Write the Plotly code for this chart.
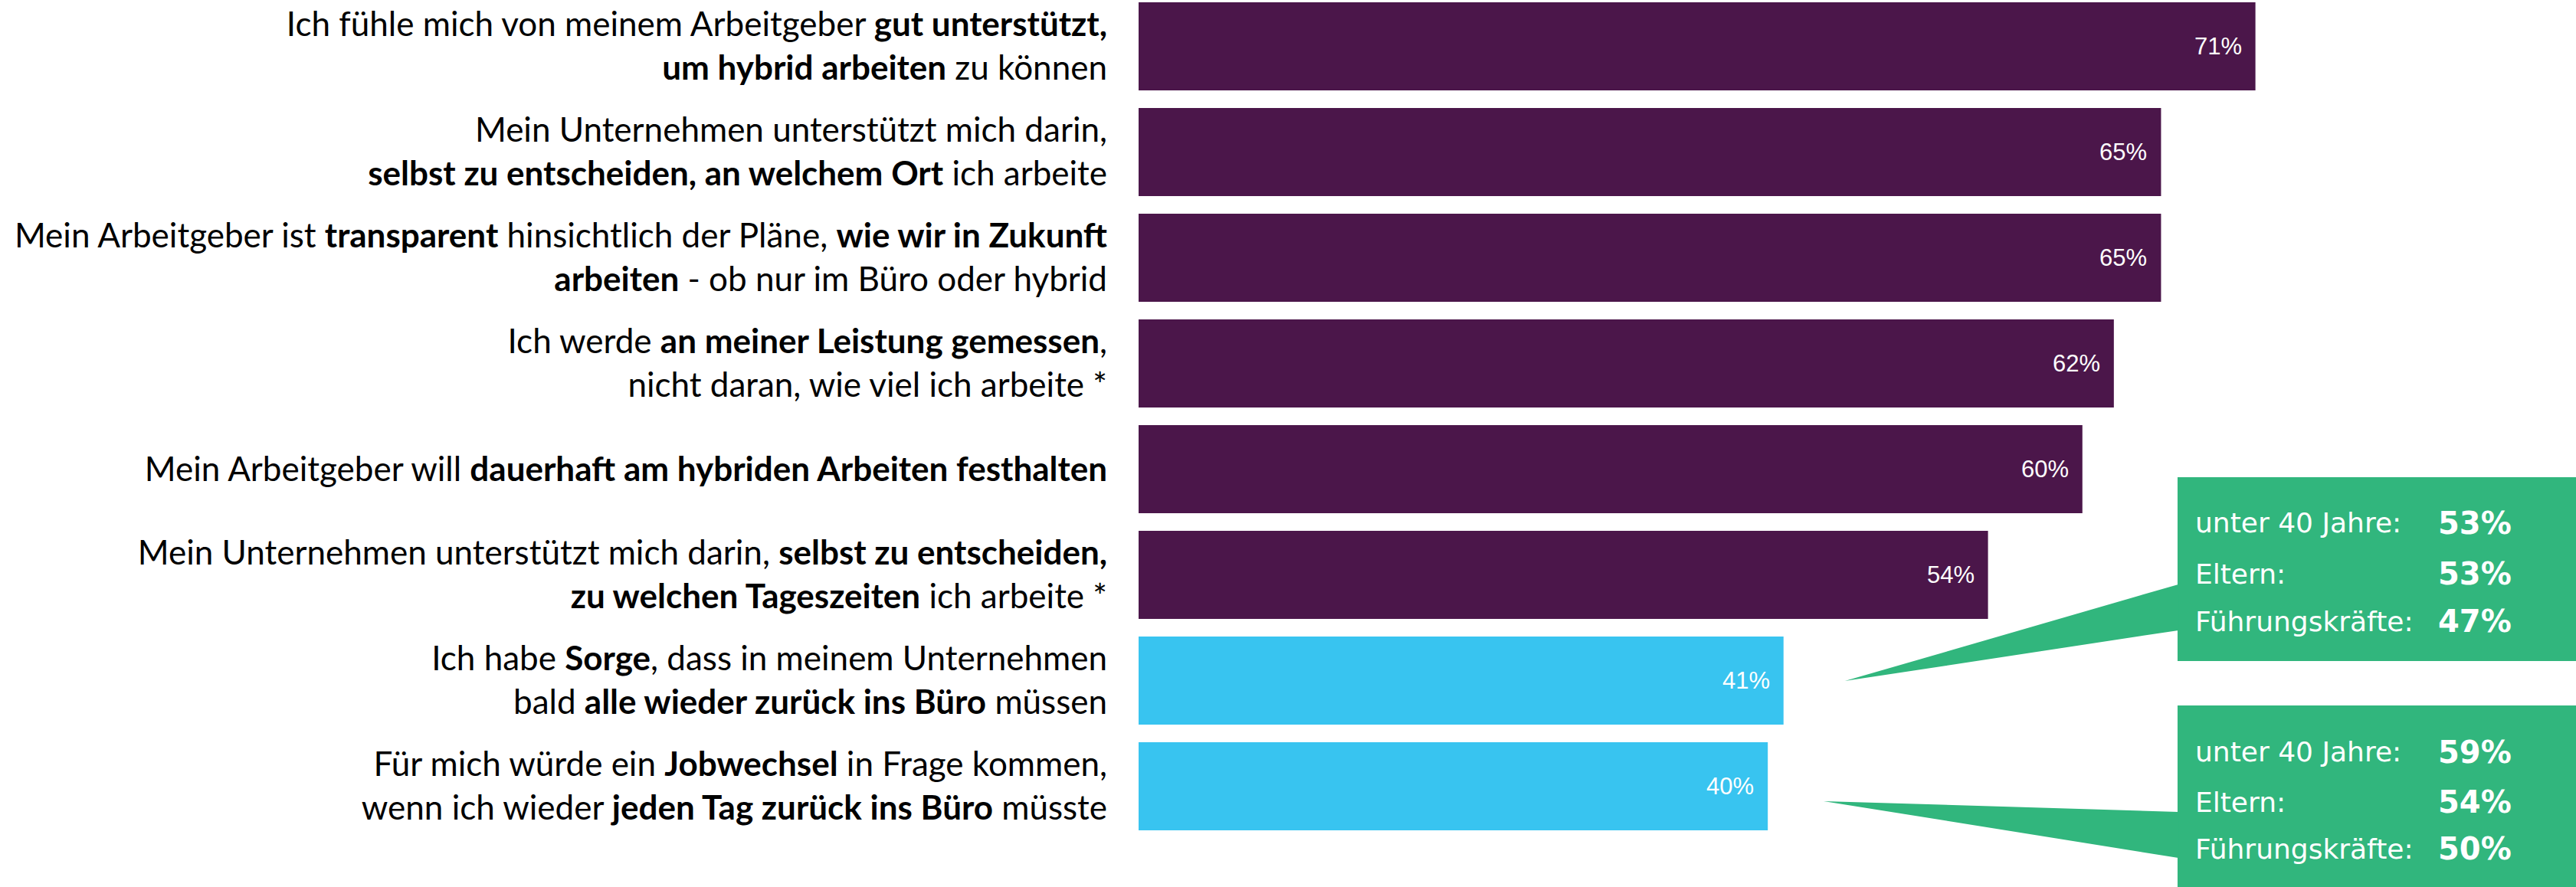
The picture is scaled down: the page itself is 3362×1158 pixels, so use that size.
import plotly.graph_objects as go

# ---- data ----
labels = [
    "Ich fühle mich von meinem Arbeitgeber <b>gut unterstützt,</b><br><b>um hybrid arbeiten</b> zu können",
    "Mein Unternehmen unterstützt mich darin,<br><b>selbst zu entscheiden, an welchem Ort</b> ich arbeite",
    "Mein Arbeitgeber ist <b>transparent</b> hinsichtlich der Pläne, <b>wie wir in Zukunft</b><br><b>arbeiten</b> - ob nur im Büro oder hybrid",
    "Ich werde <b>an meiner Leistung gemessen</b>,<br>nicht daran, wie viel ich arbeite *",
    "Mein Arbeitgeber will <b>dauerhaft am hybriden Arbeiten festhalten</b>",
    "Mein Unternehmen unterstützt mich darin, <b>selbst zu entscheiden,</b><br><b>zu welchen Tageszeiten</b> ich arbeite *",
    "Ich habe <b>Sorge</b>, dass in meinem Unternehmen<br>bald <b>alle wieder zurück ins Büro</b> müssen",
    "Für mich würde ein <b>Jobwechsel</b> in Frage kommen,<br>wenn ich wieder <b>jeden Tag zurück ins Büro</b> müsste",
]
values = [71, 65, 65, 62, 60, 54, 41, 40]
groups = ["support", "support", "support", "support", "support", "support", "concern", "concern"]

callout_groups = ["unter 40 Jahre:", "Eltern:", "Führungskräfte:"]
callout_sorge = [53, 53, 47]
callout_jobwechsel = [59, 54, 50]

PURPLE = "#4b164a"
CYAN = "#38c4f0"
GREEN = "#31b67d"
colors = [PURPLE if g == "support" else CYAN for g in groups]

pos = list(range(len(labels)))

fig = go.Figure()
fig.add_trace(go.Bar(
    x=values, y=pos, orientation="h",
    marker=dict(color=colors, line=dict(width=0)),
    width=0.833, hoverinfo="skip",
))

# value labels inside bar ends
for v, p in zip(values, pos):
    fig.add_annotation(x=v, y=p, xref="x", yref="y", text=f"{v}%",
                       showarrow=False, xanchor="right", yanchor="middle", xshift=-16,
                       font=dict(family="Liberation Sans, Arial", size=31, color="white"))

# callouts
def callout(box_y0, box_y1, tip_x, tip_y, base_y0, base_y1, row_y, vals):
    bx = 66.05
    fig.add_shape(type="rect", xref="x", yref="y", x0=bx, x1=100, y0=box_y0, y1=box_y1,
                  fillcolor=GREEN, line=dict(width=0), layer="above")
    fig.add_shape(type="path", xref="x", yref="y",
                  path=f"M {bx+0.05},{base_y0} L {tip_x},{tip_y} L {bx+0.05},{base_y1} Z",
                  fillcolor=GREEN, line=dict(width=0), layer="above")
    for name, val, ry in zip(callout_groups, vals, row_y):
        fig.add_annotation(x=67.07, y=ry, xref="x", yref="y", text=name, showarrow=False,
                           xanchor="left", yanchor="middle",
                           font=dict(family="DejaVu Sans", size=36, color="white"))
        fig.add_annotation(x=87.4, y=ry, xref="x", yref="y", text=f"<b>{val}%</b>", showarrow=False,
                           xanchor="right", yanchor="middle",
                           font=dict(family="DejaVu Sans", size=40, color="white"))

callout(4.076, 5.815, 44.9, 6.004, 5.09, 5.525, [4.51, 4.99, 5.44], callout_sorge)
callout(6.236, 8.2, 43.55, 7.141, 7.243, 7.678, [6.676, 7.149, 7.591], callout_jobwechsel)

fig.update_layout(
    width=3362, height=1158,
    margin=dict(l=1486, r=0, t=0, b=0),
    paper_bgcolor="white", plot_bgcolor="white",
    showlegend=False,
    xaxis=dict(range=[0, 91.38], visible=False, fixedrange=True),
    yaxis=dict(range=[7.953, -0.438], tickmode="array", tickvals=pos, ticktext=labels,
               showgrid=False, zeroline=False, showline=False, ticks="",
               ticklabelstandoff=40,
               tickfont=dict(family="Lato, Open Sans", size=44, color="black")),
)

fig.write_html("out.html", include_plotlyjs=True, config={"displayModeBar": False})
